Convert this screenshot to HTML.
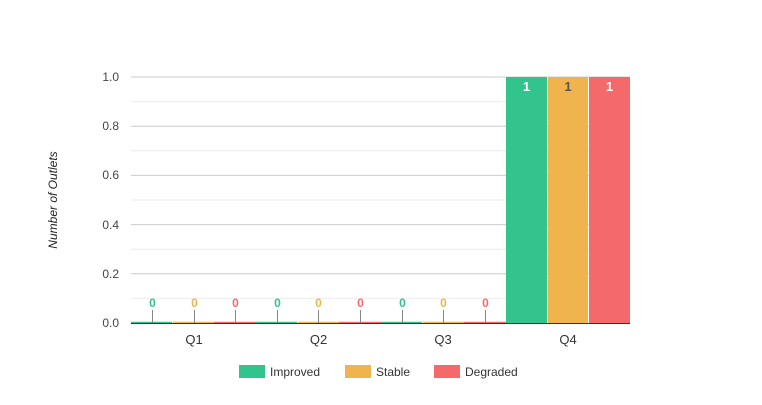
<!DOCTYPE html><html><head><style>body{margin:0;background:#fff}svg{font-family:"Liberation Sans",sans-serif}</style></head><body>
<svg width="762" height="400" xmlns="http://www.w3.org/2000/svg">
<g stroke="#ebebeb" stroke-width="1">
<line x1="131" x2="630" y1="101.6" y2="101.6"/><line x1="131" x2="630" y1="150.8" y2="150.8"/><line x1="131" x2="630" y1="200" y2="200"/><line x1="131" x2="630" y1="249.2" y2="249.2"/><line x1="131" x2="630" y1="298.4" y2="298.4"/>
</g>
<g stroke="#cccccc" stroke-width="1">
<line x1="131" x2="630" y1="77" y2="77"/><line x1="131" x2="630" y1="126.2" y2="126.2"/><line x1="131" x2="630" y1="175.4" y2="175.4"/><line x1="131" x2="630" y1="224.6" y2="224.6"/><line x1="131" x2="630" y1="273.8" y2="273.8"/>
</g>
<g font-size="12" fill="#444" text-anchor="end">
<text x="119" y="81">1.0</text><text x="119" y="130">0.8</text><text x="119" y="179">0.6</text><text x="119" y="229">0.4</text><text x="119" y="278">0.2</text><text x="119" y="327">0.0</text>
</g>
<text transform="translate(57,200) rotate(-90)" font-size="12" font-style="italic" fill="#222" text-anchor="middle">Number of Outlets</text>
<rect x="506" y="77" width="41" height="246" fill="#33c38c"/>
<rect x="548" y="77" width="40" height="246" fill="#f0b44e"/>
<rect x="589" y="77" width="41" height="246" fill="#f46a6a"/>
<g font-size="13" font-weight="bold" text-anchor="middle">
<text x="526.5" y="91" fill="#fff">1</text><text x="568" y="91" fill="#555">1</text><text x="609.5" y="91" fill="#fff">1</text>
</g>
<g stroke-width="1.5">
<line x1="131" x2="172" y1="322.5" y2="322.5" stroke="#33c38c"/><line x1="173" x2="214" y1="322.5" y2="322.5" stroke="#f0b44e"/><line x1="214" x2="256" y1="322.5" y2="322.5" stroke="#f46a6a"/>
<line x1="256" x2="297" y1="322.5" y2="322.5" stroke="#33c38c"/><line x1="298" x2="339" y1="322.5" y2="322.5" stroke="#f0b44e"/><line x1="339" x2="381" y1="322.5" y2="322.5" stroke="#f46a6a"/>
<line x1="381" x2="422" y1="322.5" y2="322.5" stroke="#33c38c"/><line x1="423" x2="464" y1="322.5" y2="322.5" stroke="#f0b44e"/><line x1="464" x2="506" y1="322.5" y2="322.5" stroke="#f46a6a"/>
</g>
<line x1="131" x2="630" y1="323.5" y2="323.5" stroke="#333"/>
<g stroke="#888" stroke-width="1">
<line x1="152.5" x2="152.5" y1="310" y2="323"/><line x1="194.5" x2="194.5" y1="310" y2="323"/><line x1="235.5" x2="235.5" y1="310" y2="323"/>
<line x1="277.5" x2="277.5" y1="310" y2="323"/><line x1="318.5" x2="318.5" y1="310" y2="323"/><line x1="360.5" x2="360.5" y1="310" y2="323"/>
<line x1="402.5" x2="402.5" y1="310" y2="323"/><line x1="443.5" x2="443.5" y1="310" y2="323"/><line x1="485.5" x2="485.5" y1="310" y2="323"/>
</g>
<g font-size="12" font-weight="bold" text-anchor="middle">
<text x="152.5" y="307" fill="#33c38c">0</text><text x="194.5" y="307" fill="#f0b44e">0</text><text x="235.5" y="307" fill="#f46a6a">0</text>
<text x="277.5" y="307" fill="#33c38c">0</text><text x="318.5" y="307" fill="#f0b44e">0</text><text x="360.5" y="307" fill="#f46a6a">0</text>
<text x="402.5" y="307" fill="#33c38c">0</text><text x="443.5" y="307" fill="#f0b44e">0</text><text x="485.5" y="307" fill="#f46a6a">0</text>
</g>
<g font-size="13" fill="#333" text-anchor="middle">
<text x="194" y="344">Q1</text><text x="318.5" y="344">Q2</text><text x="443" y="344">Q3</text><text x="568" y="344">Q4</text>
</g>
<rect x="239" y="365" width="26" height="13" fill="#33c38c"/><text x="270" y="376" font-size="12" fill="#333">Improved</text>
<rect x="345" y="365" width="26" height="13" fill="#f0b44e"/><text x="376" y="376" font-size="12" fill="#333">Stable</text>
<rect x="434" y="365" width="26" height="13" fill="#f46a6a"/><text x="465" y="376" font-size="12" fill="#333">Degraded</text>
</svg></body></html>
